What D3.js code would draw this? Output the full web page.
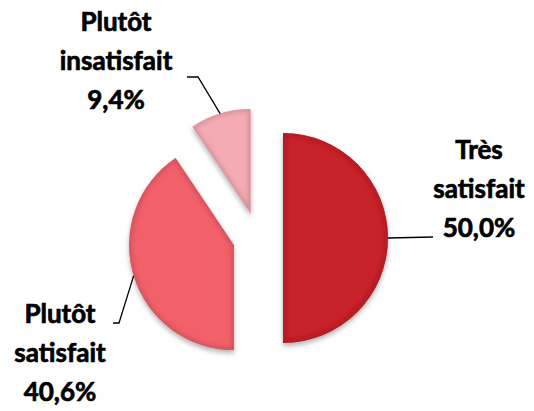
<!DOCTYPE html>
<html>
<head>
<meta charset="utf-8">
<script src="https://cdn.jsdelivr.net/npm/d3@7"></script>
<style>
  html, body { margin: 0; padding: 0; background: #fff; }
  #chart { width: 534px; height: 411px; }
</style>
</head>
<body>
<div id="chart"></div>
<script>
// Satisfaction data
const categories = ["Très satisfait", "Plutôt satisfait", "Plutôt insatisfait"];
const values = [50.0, 40.6, 9.4];
const labelLines = [["Très", "satisfait"], ["Plutôt", "satisfait"], ["Plutôt", "insatisfait"]];
const colors = ["#c8202a", "#f2606a", "#f5abb4"];

const width = 534, height = 411;
const cx = 258, cy = 238;
const radius = 105;
const explode = 25;

const svg = d3.select("#chart").append("svg")
    .attr("width", width)
    .attr("height", height);

const defs = svg.append("defs");

// soft shadow under each slice
const shadow = defs.append("filter")
    .attr("id", "shadow")
    .attr("x", "-20%").attr("y", "-20%")
    .attr("width", "140%").attr("height", "140%");
shadow.append("feDropShadow")
    .attr("dx", 0)
    .attr("dy", 3)
    .attr("stdDeviation", 2.5)
    .attr("flood-color", "#000")
    .attr("flood-opacity", 0.3);

const blur = defs.append("filter").attr("id", "blur");
blur.append("feGaussianBlur").attr("stdDeviation", 2);

const pie = d3.pie().sort(null).value(d => d.value);
const arc = d3.arc().innerRadius(0).outerRadius(radius);

const data = categories.map((c, i) => ({ name: c, value: values[i], lines: labelLines[i], color: colors[i] }));
const arcs = pie(data);

const fmt = v => d3.format(".1f")(v).replace(".", ",") + "%";

const root = svg.append("g").attr("transform", `translate(${cx},${cy})`);

const slices = root.selectAll(".slice")
    .data(arcs)
    .enter()
    .append("g")
    .attr("class", "slice")
    .attr("transform", d => {
        const a = (d.startAngle + d.endAngle) / 2;
        return `translate(${Math.sin(a) * explode},${-Math.cos(a) * explode})`;
    });

slices.append("clipPath")
    .attr("id", (d, i) => "clip" + i)
    .append("path")
    .attr("d", arc);

slices.append("path")
    .attr("d", arc)
    .attr("fill", d => d.data.color)
    .attr("filter", "url(#shadow)");

// bevel-ish darker rim
slices.append("g")
    .attr("clip-path", (d, i) => `url(#clip${i})`)
    .append("path")
    .attr("d", arc)
    .attr("fill", "none")
    .attr("stroke", d => d3.color(d.data.color).darker(0.7))
    .attr("stroke-width", 6)
    .attr("stroke-opacity", 0.6)
    .attr("filter", "url(#blur)");

// label blocks (page coords): center x, first baseline, leader elbow points
const labelPos = [
    { x: 479, y: 159, elbow: [[433, 237]] },
    { x: 60, y: 323, elbow: [[113, 323], [119, 323]] },
    { x: 116, y: 31, elbow: [[187, 77], [198, 77]] }
];

arcs.forEach((d, i) => {
    const a = (d.startAngle + d.endAngle) / 2;
    // point on the exploded slice edge
    const ex = cx + Math.sin(a) * (explode + radius);
    const ey = cy - Math.cos(a) * (explode + radius);
    const p = labelPos[i];
    const pts = i === 0 ? [[ex, ey]].concat(p.elbow) : p.elbow.concat([[ex, ey]]);
    svg.append("path")
        .attr("d", d3.line()(pts))
        .attr("fill", "none")
        .attr("stroke", "#000")
        .attr("stroke-width", 1.3);

    // slight stroke to mimic the heavier bold of the original
    const t = svg.append("text")
        .attr("text-anchor", "middle")
        .style("font-family", "Lato, 'Open Sans', sans-serif")
        .style("font-weight", "bold")
        .style("font-size", "26px")
        .style("fill", "#000")
        .style("stroke", "#000")
        .style("stroke-width", 0.7);
    const lines = d.data.lines.concat([fmt(d.data.value)]);
    lines.forEach((s, j) => {
        t.append("tspan")
            .attr("x", p.x)
            .attr("y", p.y + j * 39)
            .text(s);
    });
});
</script>
</body>
</html>
